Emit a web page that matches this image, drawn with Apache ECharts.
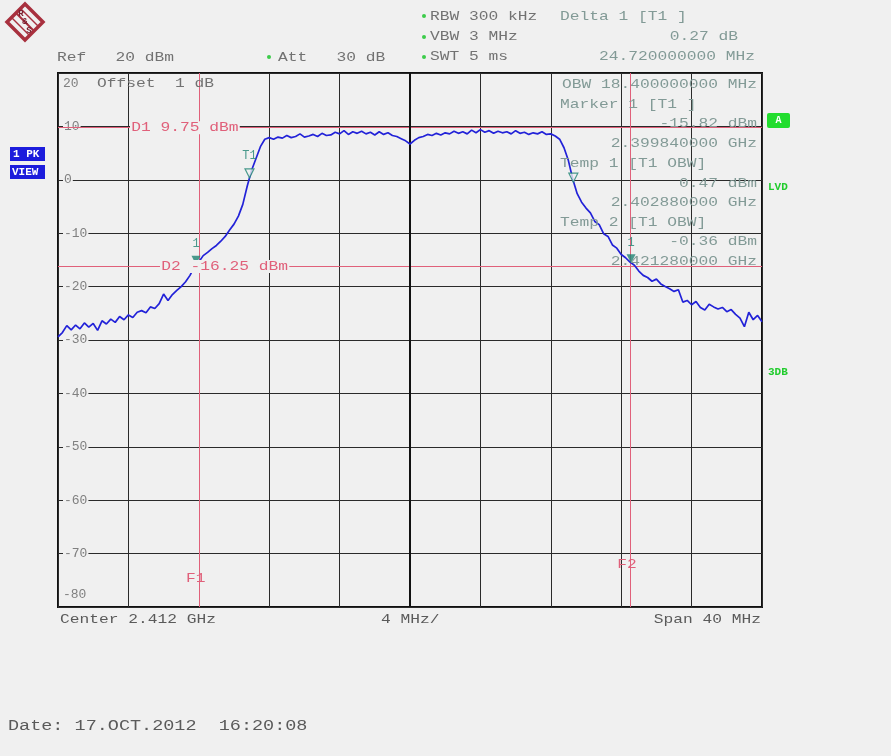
<!DOCTYPE html>
<html>
<head>
<meta charset="utf-8">
<script src="https://cdn.jsdelivr.net/npm/echarts@6/dist/echarts.min.js"></script>
<style>
  html, body { margin: 0; padding: 0; background: #f0f0f0; }
  #chart { width: 891px; height: 756px; }
</style>
</head>
<body>
<div id="chart"></div>
<script>
// Sweep settings (MHz / dBm)
const FREQ_START = 2392;
const FREQ_STEP = 0.25;
const CENTER_MHZ = 2412;
const DIV_MHZ = 4;
const LEVEL_MIN = -80;
const LEVEL_MAX = 20;
const LEVEL_DIV = 10;

// Trace 1 (max peak), one level per sweep point
const levelDbm = [
  -29.4,-28.6,-27.3,-28.1,-27.2,-27.9,-26.8,-27.6,-26.9,-28.2,
  -26.4,-27.0,-26.1,-26.7,-25.6,-26.2,-25.3,-25.8,-24.8,-24.5,
  -24.9,-23.8,-24.1,-23.2,-21.4,-22.6,-21.5,-20.7,-20.0,-19.1,
  -17.9,-16.3,-15.4,-14.2,-13.6,-12.9,-12.3,-11.5,-10.6,-9.4,
  -8.3,-6.8,-4.6,-1.2,1.8,4.0,6.2,7.6,
  7.9,7.6,8.0,7.8,8.3,7.9,8.1,8.6,8.0,8.2,
  8.5,8.1,8.7,8.3,8.4,8.9,8.6,9.2,8.5,9.0,
  8.7,9.1,8.6,8.9,8.4,9.0,8.5,8.8,8.3,8.1,
  7.7,7.3,6.7,7.4,7.9,8.1,8.5,8.3,8.7,8.4,
  8.8,8.6,9.1,8.7,9.0,8.6,9.3,8.8,9.4,8.9,
  9.2,8.7,9.1,8.8,9.0,8.6,9.2,8.7,8.9,8.5,
  8.8,8.6,9.0,8.5,8.6,8.2,7.6,6.0,3.6,0.1,
  -2.6,-4.2,-5.3,-6.2,-7.8,-8.4,-10.1,-10.6,-12.2,-12.8,
  -14.0,-14.6,-15.4,-16.0,-17.1,-17.9,-18.3,-19.0,-18.6,-19.5,
  -20.0,-20.4,-20.9,-20.6,-22.9,-22.6,-23.4,-22.8,-23.9,-24.4,
  -23.3,-23.8,-24.2,-23.9,-24.7,-24.3,-25.2,-25.9,-27.5,-24.8,
  -26.2,-25.4,-26.6
];

// Display lines (dBm) and frequency lines (MHz)
const displayLineNames = ['D1', 'D2'];
const displayLineLevels = [9.75, -16.25];
const freqLineNames = ['F1', 'F2'];
const freqLineValues = [2400.0, 2424.5];

// Markers
const markerNames = ['1', 'T1', 'T2', '1'];
const markerFreqs = [2399.84, 2402.88, 2421.28, 2424.56];
const markerLevels = [-15.82, 0.47, -0.36, -15.55];
const markerFilled = [true, false, false, true];
const markerLabelShown = [true, true, false, true];

const RED = '#e0607a';
const TEAL = '#1f8373';
const INFO = '#829a96';
const GRAY = '#727272';
const FONT = '"Liberation Mono", "DejaVu Sans Mono", monospace';

const chart = echarts.init(document.getElementById('chart'), null, { renderer: 'canvas' });

const traceData = levelDbm.map((v, i) => [FREQ_START + i * FREQ_STEP, v]);

const markLines = [];
displayLineLevels.forEach(l => markLines.push({ yAxis: l, lineStyle: { color: RED, width: 1, type: 'solid' } }));
freqLineValues.forEach(f => markLines.push({ xAxis: f, lineStyle: { color: RED, width: 1, type: 'solid' } }));
markLines.push({ xAxis: CENTER_MHZ, lineStyle: { color: '#111', width: 2, type: 'solid' } });

const markerData = markerNames.map((n, i) => ({
  name: n,
  value: [markerFreqs[i], markerLevels[i]],
  itemStyle: markerFilled[i]
    ? { color: TEAL }
    : { color: '#f0f0f0', borderColor: TEAL, borderWidth: 1.2 },
  label: { show: markerLabelShown[i] }
}));

chart.setOption({
  animation: false,
  backgroundColor: '#f0f0f0',
  grid: { left: 58, top: 73, width: 704, height: 534, containLabel: false,
          show: true, borderColor: '#111', borderWidth: 2, backgroundColor: '#f0f0f0' },
  xAxis: {
    type: 'value', min: FREQ_START, max: FREQ_START + 40, interval: DIV_MHZ,
    axisLine: { show: false }, axisTick: { show: false }, axisLabel: { show: false },
    splitLine: { show: true, lineStyle: { color: '#2a2a2a', width: 1 } }
  },
  yAxis: {
    type: 'value', min: LEVEL_MIN, max: LEVEL_MAX, interval: LEVEL_DIV,
    axisLine: { show: false }, axisTick: { show: false },
    splitLine: { show: true, lineStyle: { color: '#2a2a2a', width: 1 } },
    axisLabel: {
      inside: true, margin: 5,
      formatter: v => v === LEVEL_MAX ? '{top|' + v + '}' : (v === LEVEL_MIN ? '{bot|' + v + '}' : '{mid|' + v + '}'),
      rich: {
        mid: { fontFamily: FONT, fontSize: 13, color: '#808080', backgroundColor: '#f0f0f0', padding: [0, 1] },
        top: { fontFamily: FONT, fontSize: 13, color: '#808080', padding: [22, 0, 0, 0] },
        bot: { fontFamily: FONT, fontSize: 13, color: '#808080', padding: [0, 0, 24, 0] }
      }
    }
  },
  series: [
    {
      type: 'line', data: [], silent: true,
      markLine: { silent: true, symbol: 'none', label: { show: false }, data: markLines, z: 1 }
    },
    {
      type: 'line', data: traceData, showSymbol: false, silent: true, z: 3,
      lineStyle: { color: '#2222d8', width: 1.7 }
    },
    {
      type: 'scatter', data: markerData, silent: true, z: 4,
      symbol: 'triangle', symbolRotate: 180, symbolSize: 9, symbolOffset: [0, -4],
      label: { position: 'top', distance: 6, color: TEAL, fontFamily: FONT, fontSize: 12,
               formatter: p => p.name }
    }
  ]
});

// Text helper: monospaced readout text, slightly widened
function txt(str, x, y, opt) {
  opt = opt || {};
  const st = {
    text: str, fill: opt.color || GRAY,
    font: (opt.weight || 'normal') + ' ' + (opt.size || 13) + 'px ' + FONT,
    align: opt.align || 'left', verticalAlign: 'middle',
    textAlign: opt.align || 'left', textVerticalAlign: 'middle'
  };
  if (opt.bg) { st.backgroundColor = opt.bg; st.padding = [0, 1]; }
  return { type: 'text', x: x, y: y, scaleX: opt.sx || 1.25, silent: true, z: opt.z || 10, style: st };
}

const g = [];

// Logo
g.push({
  type: 'group', x: 25, y: 22, silent: true,
  children: [
    { type: 'polygon', shape: { points: [[0, -18], [18, 0], [0, 18], [-18, 0]] },
      style: { fill: 'none', stroke: '#a8303e', lineWidth: 3.5 } },
    { type: 'line', shape: { x1: -9, y1: -9, x2: 9, y2: 9 }, style: { stroke: '#a8303e', lineWidth: 2 } },
    { type: 'line', shape: { x1: -4, y1: -13, x2: 13, y2: 4 }, style: { stroke: '#a8303e', lineWidth: 1.5 } },
    { type: 'line', shape: { x1: -13, y1: -4, x2: 4, y2: 13 }, style: { stroke: '#a8303e', lineWidth: 1.5 } },
    { type: 'text', x: -4, y: -8, style: { text: 'R', fill: '#7a2030', font: 'bold 9px ' + FONT, align: 'center', verticalAlign: 'middle' } },
    { type: 'text', x: 0, y: 0, style: { text: '&', fill: '#7a2030', font: 'bold 9px ' + FONT, align: 'center', verticalAlign: 'middle' } },
    { type: 'text', x: 4, y: 9, style: { text: 'S', fill: '#7a2030', font: 'bold 9px ' + FONT, align: 'center', verticalAlign: 'middle' } }
  ]
});

// Header readouts
g.push(txt('Ref   20 dBm', 57, 58));
g.push(txt('Att   30 dB', 278, 58));
g.push(txt('RBW 300 kHz', 430, 17));
g.push(txt('VBW 3 MHz', 430, 37));
g.push(txt('SWT 5 ms', 430, 57));
[[269, 57], [424, 16], [424, 37], [424, 57]].forEach(p => g.push({
  type: 'circle', shape: { cx: p[0], cy: p[1], r: 2 }, style: { fill: '#3ccc4a' }, silent: true
}));

// Delta marker readout
const deltaLevel = markerLevels[3] - markerLevels[0];
const deltaFreq = markerFreqs[3] - markerFreqs[0];
g.push(txt('Delta 1 [T1 ]', 560, 17, { color: INFO }));
g.push(txt(deltaLevel.toFixed(2) + ' dB', 738, 37, { color: INFO, align: 'right' }));
g.push(txt(deltaFreq.toFixed(9) + ' MHz', 755, 57, { color: INFO, align: 'right' }));

// Marker table inside the diagram
const obw = markerFreqs[2] - markerFreqs[1];
const ghz = f => (f / 1000).toFixed(9) + ' GHz';
const dbm = l => l.toFixed(2) + ' dBm';
g.push(txt('OBW ' + obw.toFixed(9) + ' MHz', 757, 85, { color: INFO, align: 'right' }));
g.push(txt('Marker 1 [T1 ]', 560, 105, { color: INFO }));
g.push(txt(dbm(markerLevels[0]), 757, 124, { color: INFO, align: 'right' }));
g.push(txt(ghz(markerFreqs[0]), 757, 144, { color: INFO, align: 'right' }));
g.push(txt('Temp 1 [T1 OBW]', 560, 164, { color: INFO }));
g.push(txt(dbm(markerLevels[1]), 757, 184, { color: INFO, align: 'right' }));
g.push(txt(ghz(markerFreqs[1]), 757, 203, { color: INFO, align: 'right' }));
g.push(txt('Temp 2 [T1 OBW]', 560, 223, { color: INFO }));
g.push(txt(dbm(markerLevels[2]), 757, 242, { color: INFO, align: 'right' }));
g.push(txt(ghz(markerFreqs[2]), 757, 262, { color: INFO, align: 'right' }));

g.push(txt('Offset  1 dB', 97, 84));

// Display line and frequency line labels, placed through the axes
displayLineLevels.forEach((l, i) => {
  const y = chart.convertToPixel({ gridIndex: 0 }, [FREQ_START, l])[1];
  const x = i === 0 ? 130 : 160;
  g.push(txt(displayLineNames[i] + ' ' + l.toFixed(2) + ' dBm', x, y, { color: RED, bg: '#f0f0f0', z: 5 }));
});
freqLineValues.forEach((f, i) => {
  const x = chart.convertToPixel({ gridIndex: 0 }, [f, 0])[0];
  g.push(txt(freqLineNames[i], x - 3, i === 0 ? 579 : 565, { color: RED, align: 'center' }));
});

// Side indicators
g.push({ type: 'rect', shape: { x: 10, y: 147, width: 35, height: 14 }, style: { fill: '#1c1cdc' }, silent: true });
g.push({ type: 'rect', shape: { x: 10, y: 165, width: 35, height: 14 }, style: { fill: '#1c1cdc' }, silent: true });
g.push(txt('1 PK', 13, 154.5, { color: '#fff', weight: 'bold', size: 10, sx: 1.1 }));
g.push(txt('VIEW', 12, 172.5, { color: '#fff', weight: 'bold', size: 10, sx: 1.1 }));
g.push({ type: 'rect', shape: { x: 767, y: 113, width: 23, height: 15, r: 2 }, style: { fill: '#22dd2e' }, silent: true });
g.push(txt('A', 778.5, 120.5, { color: '#fff', weight: 'bold', size: 10, sx: 1, align: 'center' }));
g.push(txt('LVD', 768, 187, { color: '#22cc2e', weight: 'bold', size: 10, sx: 1.1 }));
g.push(txt('3DB', 768, 372, { color: '#22cc2e', weight: 'bold', size: 10, sx: 1.1 }));

// Footer
g.push(txt('Center ' + (CENTER_MHZ / 1000).toFixed(3) + ' GHz', 60, 620, { color: '#5a5a5a' }));
g.push(txt(DIV_MHZ + ' MHz/', 381, 620, { color: '#5a5a5a' }));
g.push(txt('Span 40 MHz', 761, 620, { color: '#5a5a5a', align: 'right' }));
g.push(txt('Date: 17.OCT.2012  16:20:08', 8, 726, { color: '#5a5a5a', size: 14, sx: 1.32 }));

chart.setOption({ graphic: g });
</script>
</body>
</html>
